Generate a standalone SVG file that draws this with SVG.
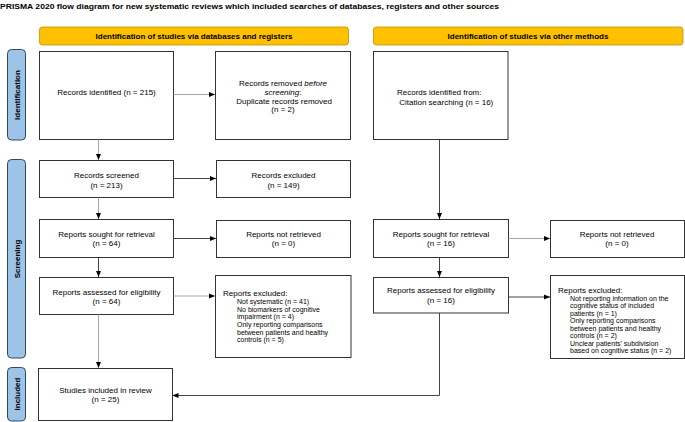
<svg xmlns="http://www.w3.org/2000/svg" width="685" height="422" viewBox="0 0 685 422">
<defs>
<marker id="ah" viewBox="0 0 6 6" refX="6" refY="3" markerWidth="6" markerHeight="6" orient="auto" markerUnits="userSpaceOnUse">
<path d="M0,0.5 L6,3 L0,5.5 Z" fill="#000"/>
</marker>
<style>
.t{font-family:"Liberation Sans",Arial,sans-serif;font-size:8px;fill:#000}
.s{font-family:"Liberation Sans",Arial,sans-serif;font-size:7px;fill:#000}
.b{font-family:"Liberation Sans",Arial,sans-serif;font-size:8px;font-weight:bold;fill:#000}
.box{fill:#fff;stroke:#333;stroke-width:1}
.hdr{fill:#FFC000;stroke:#C09000;stroke-width:0.8}
.side{fill:#9DC3E6;stroke:#2E4A66;stroke-width:1}
.g{stroke:#a6a6a6;stroke-width:1;fill:none;marker-end:url(#ah)}
.d{stroke:#444;stroke-width:1;fill:none;marker-end:url(#ah)}
</style>
</defs>
<rect width="685" height="422" fill="#fff"/>
<text x="0" y="8.5" class="b" textLength="499" lengthAdjust="spacingAndGlyphs">PRISMA 2020 flow diagram for new systematic reviews which included searches of databases, registers and other sources</text>

<g id="hdr1"><rect x="39.5" y="27" width="309" height="18" rx="3" class="hdr"/><text x="194" y="39" class="b" text-anchor="middle">Identification of studies via databases and registers</text></g>
<g id="hdr2"><rect x="373.5" y="27" width="309.5" height="18" rx="3" class="hdr"/><text x="528" y="39" class="b" text-anchor="middle">Identification of studies via other methods</text></g>

<g id="side-identification"><rect x="7.5" y="49.5" width="18" height="90.5" rx="4" class="side"/><text transform="translate(19.5,95) rotate(-90)" class="b" text-anchor="middle">Identification</text></g>
<g id="side-screening"><rect x="7.5" y="159.5" width="18" height="198.5" rx="4" class="side"/><text transform="translate(19.5,259) rotate(-90)" class="b" text-anchor="middle">Screening</text></g>
<g id="side-included"><rect x="7.5" y="367.5" width="18" height="53.5" rx="4" class="side"/><text transform="translate(19.5,394) rotate(-90)" class="b" text-anchor="middle">Included</text></g>

<g id="records-identified"><rect x="39.5" y="51.5" width="134" height="88" class="box"/><text x="106.5" y="95" class="t" text-anchor="middle">Records identified (n = 215)</text></g>
<g id="records-removed"><rect x="215.5" y="51.5" width="135" height="88" class="box"/><text class="t" text-anchor="middle"><tspan x="283" y="86">Records removed <tspan font-style="italic">before</tspan></tspan><tspan x="283" y="94.5"><tspan font-style="italic">screening</tspan>:</tspan><tspan x="283" y="103.5"> Duplicate records removed</tspan><tspan x="283" y="112">(n = 2)</tspan></text></g>

<g id="records-screened"><rect x="39.5" y="160.5" width="134" height="37" class="box"/><text class="t" text-anchor="middle"><tspan x="106.5" y="178">Records screened</tspan><tspan x="106.5" y="187.5">(n = 213)</tspan></text></g>
<g id="records-excluded"><rect x="216.5" y="160.5" width="134" height="37" class="box"/><text class="t" text-anchor="middle"><tspan x="283.5" y="178">Records excluded</tspan><tspan x="283.5" y="187.5">(n = 149)</tspan></text></g>

<g id="reports-sought"><rect x="39.5" y="219.5" width="134" height="38" class="box"/><text class="t" text-anchor="middle"><tspan x="106.5" y="236.5">Reports sought for retrieval</tspan><tspan x="106.5" y="246">(n = 64)</tspan></text></g>
<g id="reports-not-retrieved"><rect x="216.5" y="220.5" width="134" height="37" class="box"/><text class="t" text-anchor="middle"><tspan x="283.5" y="236.5">Reports not retrieved</tspan><tspan x="283.5" y="246">(n = 0)</tspan></text></g>

<g id="reports-assessed"><rect x="39.5" y="277.5" width="134" height="37" class="box"/><text class="t" text-anchor="middle"><tspan x="106.5" y="294.5">Reports assessed for eligibility</tspan><tspan x="106.5" y="304">(n = 64)</tspan></text></g>
<g id="reports-excluded"><rect x="215.5" y="275.5" width="135.5" height="82" class="box"/><text x="223" y="296" class="t">Reports excluded:</text><text class="s"><tspan x="237" y="304">Not systematic (n = 41)</tspan><tspan x="237" y="311.7">No biomarkers of cognitive</tspan><tspan x="237" y="319.3">impairment (n = 4)</tspan><tspan x="237" y="327">Only reporting comparisons</tspan><tspan x="237" y="334.6">between patients and healthy</tspan><tspan x="237" y="342.3">controls (n = 5)</tspan></text></g>

<g id="studies-included"><rect x="38.5" y="368.5" width="134" height="52" class="box"/><text class="t" text-anchor="middle"><tspan x="105.5" y="392.5">Studies included in review</tspan><tspan x="105.5" y="402">(n = 25)</tspan></text></g>

<g id="other-records-identified"><rect x="373.5" y="51.5" width="134.5" height="88" class="box"/><text class="t"><tspan x="397" y="94.5">Records identified from:</tspan><tspan x="397" y="104.5"> Citation searching (n = 16)</tspan></text></g>
<g id="other-reports-sought"><rect x="373.5" y="219.5" width="135" height="38" class="box"/><text class="t" text-anchor="middle"><tspan x="441" y="236.5">Reports sought for retrieval</tspan><tspan x="441" y="246">(n = 16)</tspan></text></g>
<g id="other-reports-not-retrieved"><rect x="550.5" y="220.5" width="134" height="37" class="box"/><text class="t" text-anchor="middle"><tspan x="617" y="236.5">Reports not retrieved</tspan><tspan x="617" y="246">(n = 0)</tspan></text></g>
<g id="other-reports-assessed"><rect x="373.5" y="277.5" width="135" height="35.5" class="box"/><text class="t" text-anchor="middle"><tspan x="441" y="293">Reports assessed for eligibility</tspan><tspan x="441" y="302.5">(n = 16)</tspan></text></g>
<g id="other-reports-excluded"><rect x="550.5" y="275.5" width="134" height="83" class="box"/><text x="558" y="293" class="t">Reports excluded:</text><text class="s"><tspan x="570" y="300.8">Not reporting information on the</tspan><tspan x="570" y="308.3">cognitive status of included</tspan><tspan x="570" y="315.8">patients (n = 1)</tspan><tspan x="570" y="323.3">Only reporting comparisons</tspan><tspan x="570" y="330.8">between patients and healthy</tspan><tspan x="570" y="338.3">controls (n = 2)</tspan><tspan x="570" y="345.8">Unclear patients’ subdivision</tspan><tspan x="570" y="353.3">based on cognitive status (n = 2)</tspan></text></g>

<g id="connectors">
<path d="M173.5,94.5 H215" class="g"/>
<path d="M98.5,139.5 V160" class="g"/>
<path d="M173.5,178.5 H216" class="d"/>
<path d="M98.5,197.5 V219" class="g"/>
<path d="M173.5,238.5 H216" class="d"/>
<path d="M98.5,257.5 V277" class="d"/>
<path d="M173.5,296 H215" class="g"/>
<path d="M98.5,314.5 V368" class="g"/>
<path d="M439.5,139.5 V219" class="d"/>
<path d="M508.5,238.5 H550" class="g"/>
<path d="M439.5,257.5 V277" class="d"/>
<path d="M508.5,297 H550" class="d"/>
<path d="M439.5,313 V395.5 H172.5" class="d"/>
</g>
</svg>
